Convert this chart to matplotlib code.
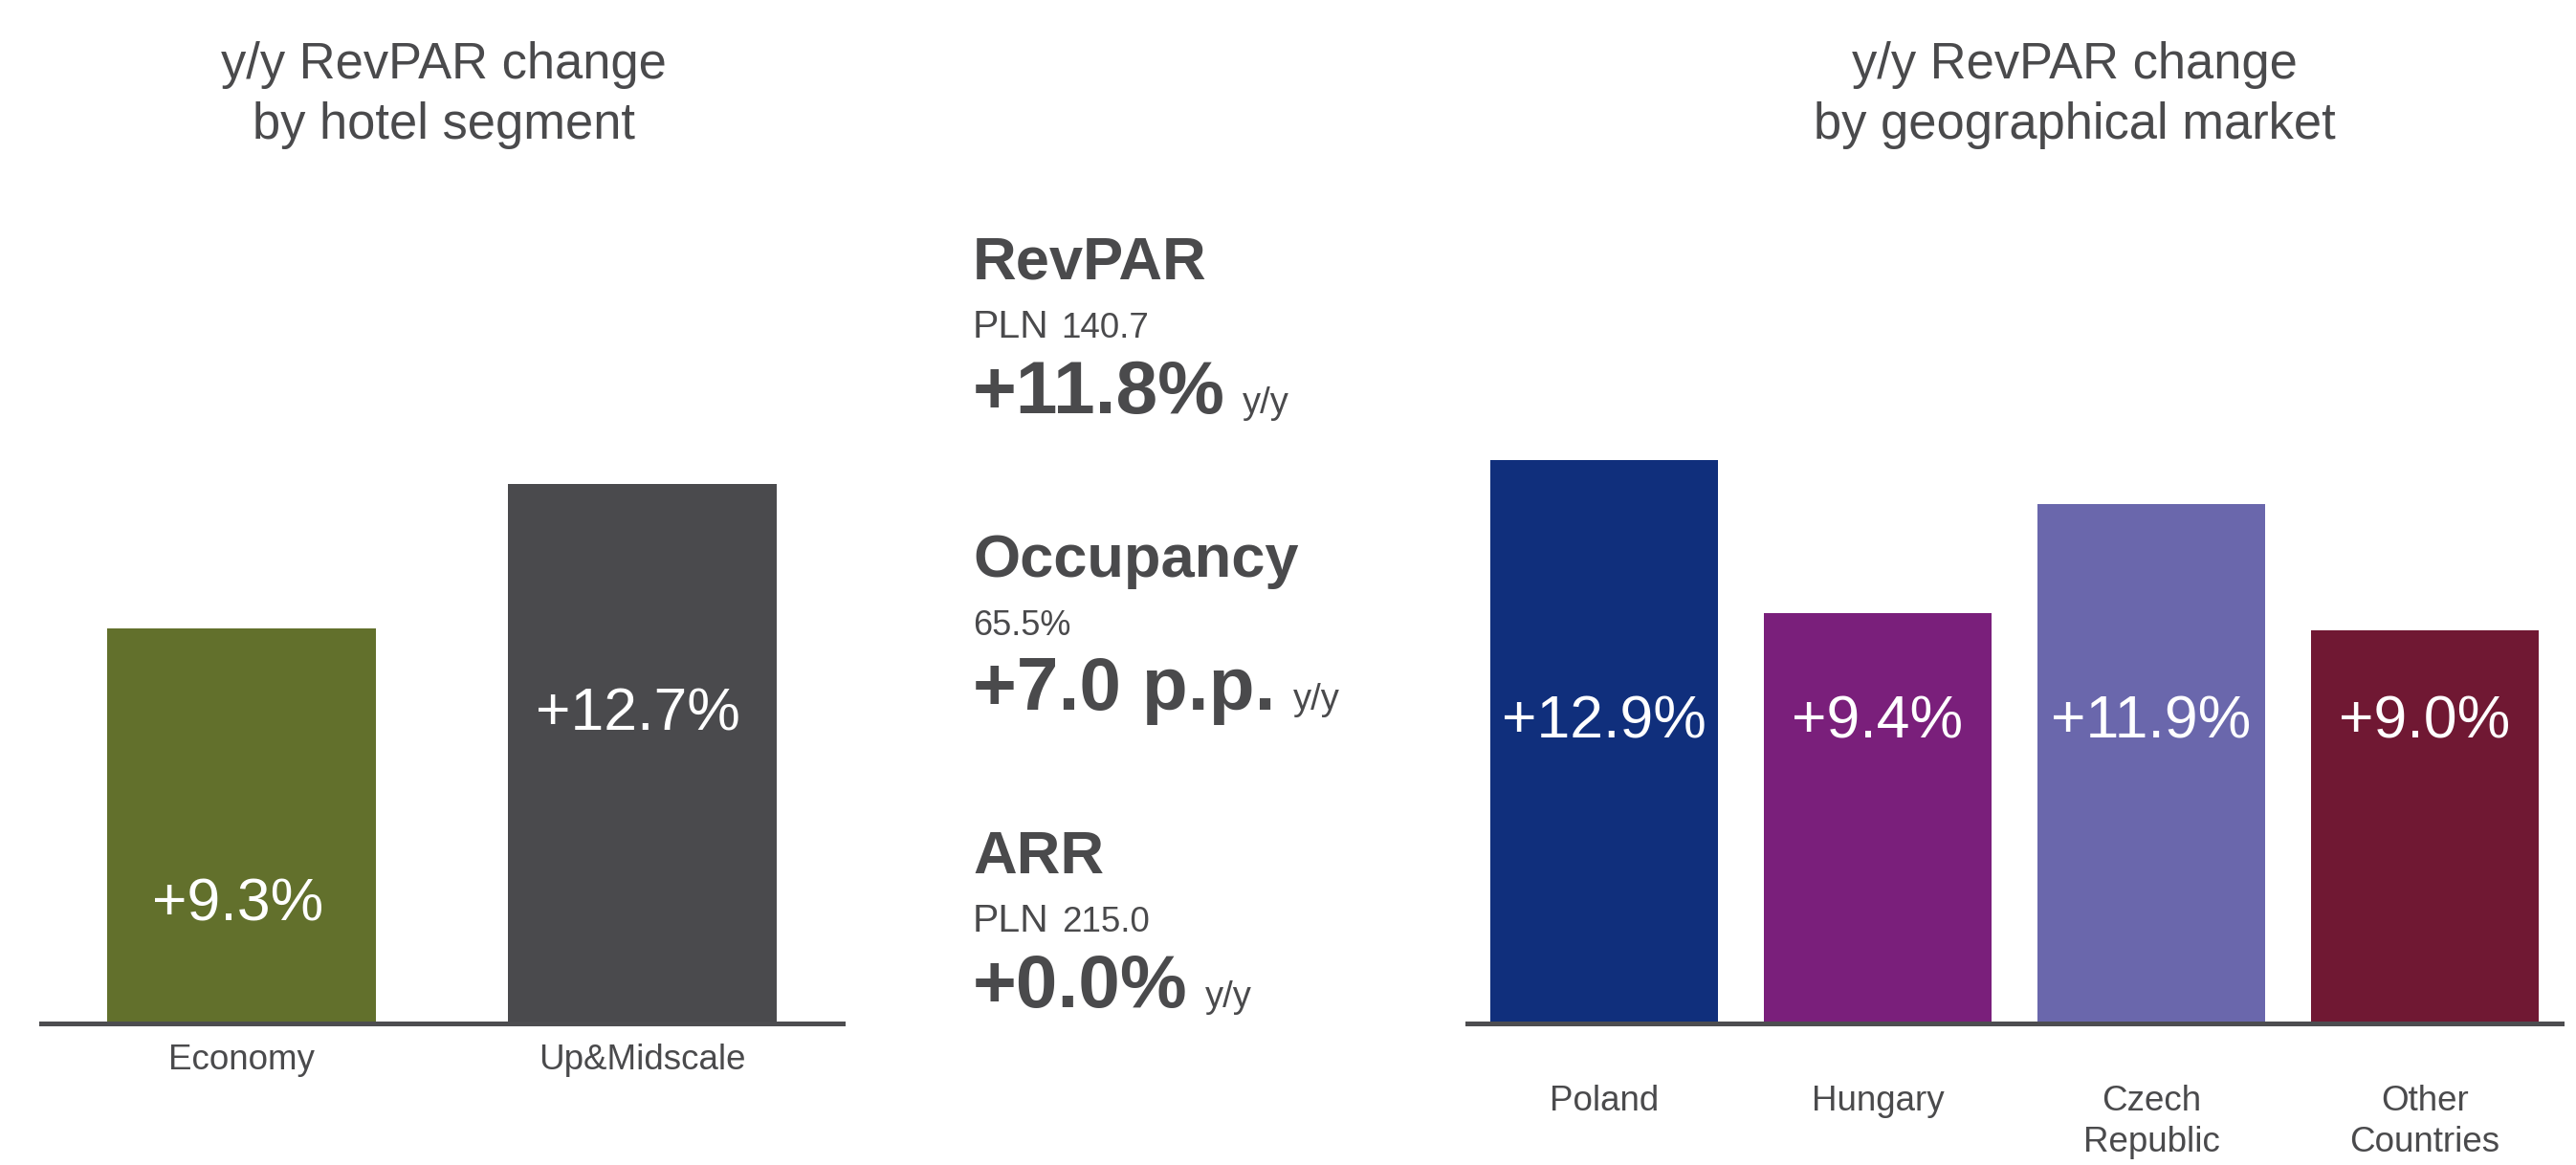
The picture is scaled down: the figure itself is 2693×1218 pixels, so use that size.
import matplotlib
matplotlib.use("Agg")
import matplotlib.pyplot as plt

# ---------------- data ----------------
segment_labels = ["Economy", "Up&Midscale"]
segment_values = [9.3, 12.7]
segment_colors = ["#62702C", "#4A4A4D"]

market_labels = ["Poland", "Hungary", "Czech\nRepublic", "Other\nCountries"]
market_values = [12.9, 9.4, 11.9, 9.0]
market_colors = ["#102F7C", "#7A1F7B", "#6A67AC", "#701833"]

kpi_names = ["RevPAR", "Occupancy", "ARR"]
kpi_unit = ["PLN", "", "PLN"]
kpi_level = ["140.7", "65.5%", "215.0"]
kpi_change = ["+11.8%", "+7.0 p.p.", "+0.0%"]

title_left = "y/y RevPAR change\nby hotel segment"
title_right = "y/y RevPAR change\nby geographical market"

# ---------------- style ----------------
FONT = "Liberation Sans"
TXT = "#4A4A4C"
plt.rcParams["font.family"] = [FONT, "DejaVu Sans"]

W, H = 2693, 1218
fig = plt.figure(figsize=(W / 100, H / 100), dpi=100)


def fx(px):
    return px / W


def fy(py):
    return 1 - py / H


base_y = 1069.5
ax_h = 800


def fmt(v):
    return f"+{v:.1f}%"


def setup(ax, ylim_top, xlim):
    ax.set_xlim(*xlim)
    ax.set_ylim(0, ylim_top)
    for s in ["top", "right", "left"]:
        ax.spines[s].set_visible(False)
    ax.spines["bottom"].set_color("#4D4D50")
    ax.spines["bottom"].set_linewidth(3.6)
    ax.set_yticks([])
    ax.tick_params(axis="x", length=0, labelsize=26.5, labelcolor=TXT)


# left panel
axL = fig.add_axes([fx(43), fy(base_y), fx(838), ax_h / H])
setup(axL, ax_h / 44.4, (-0.5, 1.5))
xl = list(range(len(segment_values)))
axL.bar(xl, segment_values, width=0.67, color=segment_colors)
axL.set_xticks(xl)
axL.set_xticklabels(segment_labels)
axL.tick_params(axis="x", pad=15.7)
label_y_left = [2.78, 7.27]
for x, v, ly in zip(xl, segment_values, label_y_left):
    axL.text(x - 0.01, ly, fmt(v), ha="center", va="center", color="white", fontsize=45)

# right panel
axR = fig.add_axes([fx(1534), fy(base_y), fx(1144), ax_h / H])
setup(axR, ax_h / 45.6, (-0.5, 3.5))
xr = list(range(len(market_values)))
axR.bar(xr, market_values, width=0.83, color=market_colors)
axR.set_xticks(xr)
axR.set_xticklabels(market_labels, linespacing=1.29)
axR.tick_params(axis="x", pad=46.7)
for x, v in zip(xr, market_values):
    axR.text(x, 6.89, fmt(v), ha="center", va="center", color="white", fontsize=45)

# titles
fig.text(fx(464), fy(99.5), title_left, ha="center", va="center", fontsize=37.8,
         color=TXT, linespacing=1.32)
fig.text(fx(2169), fy(99.5), title_right, ha="center", va="center", fontsize=37.8,
         color=TXT, linespacing=1.32)

# middle KPI block
renderer = fig.canvas.get_renderer()
x0 = 1017
block_step = 310.5
for i, (name, unit, level, chg) in enumerate(zip(kpi_names, kpi_unit, kpi_level, kpi_change)):
    off = i * block_step
    fig.text(fx(x0), fy(292 + off), name, ha="left", va="baseline", fontsize=45.5,
             fontweight="bold", color=TXT)
    # level line
    if unit:
        t = fig.text(fx(x0), fy(353 + off), unit, ha="left", va="baseline",
                     fontsize=29.5, color=TXT)
        bb = t.get_window_extent(renderer)
        fig.text(fx(bb.x1 + 13), fy(353 + off), level, ha="left", va="baseline",
                 fontsize=26.5, color=TXT)
    else:
        fig.text(fx(x0), fy(353 + off), level, ha="left", va="baseline",
                 fontsize=26, color=TXT)
    t2 = fig.text(fx(x0), fy(432 + off), chg, ha="left", va="baseline", fontsize=56.5,
                  fontweight="bold", color=TXT)
    bb2 = t2.get_window_extent(renderer)
    fig.text(fx(bb2.x1 + 18), fy(432 + off), "y/y", ha="left", va="baseline",
             fontsize=27.5, color=TXT)

fig.savefig("out.png", dpi=100)
